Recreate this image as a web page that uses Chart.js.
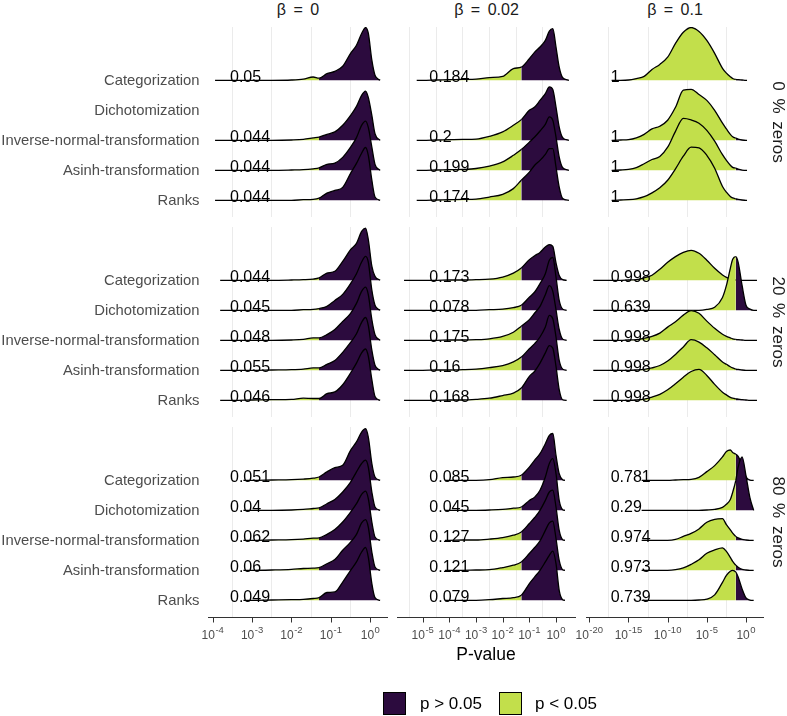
<!DOCTYPE html>
<html>
<head>
<meta charset="utf-8">
<script src="https://cdn.jsdelivr.net/npm/chart.js@4.4.1/dist/chart.umd.min.js"></script>
<style>
  body { margin: 0; background: #fff; font-family: "Liberation Sans", Arial, sans-serif; }
  #plot { position: relative; width: 787px; height: 716px; overflow: hidden; background: #fff; }
  .txt { position: absolute; white-space: nowrap; }
  .method { font-size: 14.8px; color: #4d4d4d; text-align: right; line-height: 18px; }
  .strip { font-size: 16px; color: #1a1a1a; text-align: center; line-height: 18px; word-spacing: 3px; }
  .key { position: absolute; width: 23px; height: 23px; box-sizing: border-box; border: 1px solid #000; }
  .keytxt { font-size: 17px; color: #000; line-height: 20px; }
</style>
</head>
<body>
<div id="plot"></div>
<script>
// categories and facet labels
var methods = ["Categorization", "Dichotomization", "Inverse-normal-transformation", "Asinh-transformation", "Ranks"];
var betas = ["\u03b2 = 0", "\u03b2 = 0.02", "\u03b2 = 0.1"];
var zeroShares = ["0 % zeros", "20 % zeros", "80 % zeros"];
var legendLabels = ["p > 0.05", "p < 0.05"];

// x axis (log10 p-value) ticks and grid lines, one per beta column
var ticksB0 = [-4, -3, -2, -1, 0];
var ticksB002 = [-5, -4, -3, -2, -1, 0];
var ticksB01 = [-20, -15, -10, -5, 0];
var gridB0 = [-3.5, -2.5, -1.5, -0.5];
var gridB002 = [-5.5, -4.5, -3.5, -2.5, -1.5, -0.5];
var gridB01 = [-17.5, -12.5, -7.5, -2.5];

// log10 p positions where the density heights were read
var xsB0 = [-3.5, -3, -2.5, -2, -1.7, -1.45, -1.301, -1.1, -0.9, -0.7, -0.5, -0.35, -0.22, -0.12, -0.05, 0.04, 0.12];
var xsB002 = [-5, -4.5, -4, -3.5, -3, -2.5, -2, -1.6, -1.301, -1, -0.8, -0.6, -0.4, -0.25, -0.12, 0, 0.12, 0.25];
var xsB01 = [-19, -18, -17, -16, -15, -14, -13, -12, -11, -10, -9, -8, -7, -6, -5, -4, -3, -2.5, -2, -1.7, -1.301, -1, -0.5, 0, 0.5, 1];

// range of each ridge (rows: zero share, cols: beta)
var xFrom = [[-3.94, -5.225, -17.15], [-3.81, -5.7, -19.49], [-3.22, -4.164, -13.32]];
var xTo = [[0.25, 0.485, 0.13], [0.25, 0.4, 1.4], [0.25, 0.336, 0.98]];

// power labels (cols: beta, then method)
var powerZ0 = [["0.05", "", "0.044", "0.044", "0.044"], ["0.184", "", "0.2", "0.199", "0.174"], ["1", "", "1", "1", "1"]];
var powerZ20 = [["0.044", "0.045", "0.048", "0.055", "0.046"], ["0.173", "0.078", "0.175", "0.16", "0.168"], ["0.998", "0.639", "0.998", "0.998", "0.998"]];
var powerZ80 = [["0.051", "0.04", "0.062", "0.06", "0.049"], ["0.085", "0.045", "0.127", "0.121", "0.079"], ["0.781", "0.29", "0.974", "0.973", "0.739"]];

// ridge heights (in ridge spacings), one list per method
var densZ0B0 = [
  [0, 0, 0, 0.01, 0.04, 0.11, 0.07, 0.22, 0.3, 0.47, 0.9, 1.17, 1.56, 1.76, 1.57, 0.67, 0.17],
  null,
  [0, 0, 0, 0.01, 0.03, 0.08, 0.11, 0.2, 0.28, 0.5, 0.83, 1.13, 1.5, 1.64, 1.43, 0.83, 0.22],
  [0, 0, 0, 0.01, 0.02, 0.05, 0.08, 0.2, 0.24, 0.43, 0.77, 1.09, 1.5, 1.64, 1.43, 0.77, 0.2],
  [0, 0, 0, 0, 0.02, 0.03, 0.07, 0.24, 0.33, 0.43, 0.9, 1.23, 1.57, 1.76, 1.5, 0.67, 0.11]
];
var densZ20B0 = [
  [0, 0, 0, 0.01, 0.02, 0.04, 0.08, 0.24, 0.3, 0.63, 1.02, 1.23, 1.63, 1.74, 1.36, 0.47, 0.13],
  [0, 0, 0, 0, 0.02, 0.03, 0.06, 0.13, 0.33, 0.53, 0.89, 1.22, 1.61, 1.8, 1.61, 0.67, 0.17],
  [0, 0, 0, 0.01, 0.03, 0.08, 0.08, 0.19, 0.36, 0.63, 0.9, 1.23, 1.63, 1.77, 1.52, 0.69, 0.19],
  [0, 0, 0.01, 0.02, 0.04, 0.08, 0.08, 0.2, 0.33, 0.6, 0.93, 1.22, 1.6, 1.76, 1.5, 0.67, 0.17],
  [0, 0.01, 0.02, 0.03, 0.07, 0.06, 0.06, 0.22, 0.28, 0.52, 0.91, 1.24, 1.58, 1.71, 1.47, 0.69, 0.13]
];
var densZ80B0 = [
  [0, 0, 0.01, 0.02, 0.04, 0.07, 0.11, 0.28, 0.42, 0.5, 1.0, 1.28, 1.61, 1.72, 1.44, 0.56, 0.11],
  [0, 0, 0, 0.01, 0.03, 0.06, 0.08, 0.22, 0.36, 0.61, 0.94, 1.28, 1.56, 1.67, 1.44, 0.61, 0.11],
  [0, 0, 0.01, 0.02, 0.04, 0.07, 0.08, 0.2, 0.36, 0.61, 0.94, 1.22, 1.53, 1.64, 1.39, 0.61, 0.11],
  [0, 0, 0.01, 0.03, 0.06, 0.07, 0.09, 0.22, 0.36, 0.67, 0.94, 1.2, 1.58, 1.69, 1.44, 0.61, 0.11],
  [0, 0, 0.01, 0.02, 0.03, 0.06, 0.09, 0.26, 0.28, 0.61, 1.0, 1.28, 1.61, 1.76, 1.44, 0.56, 0.09]
];
var densZ0B002 = [
  [0, 0.01, 0.02, 0.03, 0.04, 0.09, 0.13, 0.39, 0.44, 0.72, 0.94, 1.11, 1.33, 1.64, 1.72, 1.11, 0.44, 0.09],
  null,
  [0, 0.01, 0.02, 0.03, 0.04, 0.13, 0.28, 0.5, 0.69, 1.0, 1.11, 1.33, 1.56, 1.78, 1.69, 1.11, 0.44, 0.09],
  [0, 0.01, 0.02, 0.03, 0.06, 0.14, 0.28, 0.5, 0.69, 0.94, 1.11, 1.31, 1.53, 1.78, 1.67, 1.11, 0.44, 0.09],
  [0, 0.01, 0.02, 0.03, 0.04, 0.11, 0.2, 0.39, 0.67, 0.94, 1.17, 1.33, 1.53, 1.72, 1.72, 1.11, 0.44, 0.06]
];
var densZ20B002 = [
  [0, 0, 0.01, 0.01, 0.02, 0.04, 0.11, 0.24, 0.41, 0.69, 0.82, 0.93, 1.11, 1.19, 1.13, 0.58, 0.16, 0.02],
  [0, 0, 0, 0, 0, 0.02, 0.04, 0.09, 0.17, 0.44, 0.61, 0.89, 1.22, 1.67, 1.76, 1.11, 0.33, 0.04],
  [0, 0, 0.01, 0.01, 0.02, 0.05, 0.13, 0.27, 0.47, 0.69, 0.91, 1.13, 1.52, 1.82, 1.63, 1.02, 0.36, 0.04],
  [0, 0.01, 0.01, 0.02, 0.04, 0.09, 0.16, 0.28, 0.44, 0.72, 0.89, 1.11, 1.44, 1.83, 1.72, 1.11, 0.33, 0.04],
  [0, 0, 0.01, 0.01, 0.03, 0.07, 0.16, 0.24, 0.41, 0.8, 0.97, 1.24, 1.58, 1.82, 1.74, 1.13, 0.36, 0.02]
];
var densZ80B002 = [
  [0, 0, 0, 0, 0, 0.02, 0.09, 0.11, 0.17, 0.44, 0.67, 0.89, 1.22, 1.5, 1.56, 0.83, 0.22, 0.02],
  [0, 0, 0, 0, 0, 0.01, 0.03, 0.07, 0.11, 0.33, 0.44, 0.67, 1.11, 1.56, 1.72, 1.22, 0.33, 0.02],
  [0, 0, 0, 0.01, 0.01, 0.04, 0.09, 0.17, 0.28, 0.56, 0.76, 1.0, 1.33, 1.61, 1.67, 1.11, 0.33, 0.02],
  [0, 0, 0, 0, 0.01, 0.02, 0.09, 0.17, 0.28, 0.56, 0.76, 0.98, 1.33, 1.58, 1.64, 1.06, 0.33, 0.02],
  [0, 0, 0, 0, 0, 0.02, 0.06, 0.09, 0.17, 0.56, 0.78, 1.0, 1.28, 1.5, 1.64, 1.22, 0.33, 0.02]
];
var densZ0B01 = [
  [0, 0, 0, 0, 0.01, 0.06, 0.13, 0.36, 0.53, 0.77, 1.23, 1.6, 1.76, 1.63, 1.33, 0.9, 0.4, 0.24, 0.12, 0.06, 0.03, 0.02, 0.01, 0, 0, 0],
  null,
  [0, 0, 0, 0.01, 0.02, 0.08, 0.2, 0.38, 0.47, 0.67, 1.1, 1.67, 1.7, 1.53, 1.33, 1.0, 0.57, 0.38, 0.2, 0.12, 0.07, 0.04, 0.01, 0, 0, 0],
  [0, 0, 0, 0.01, 0.03, 0.09, 0.22, 0.36, 0.46, 0.77, 1.3, 1.73, 1.68, 1.57, 1.33, 0.97, 0.52, 0.33, 0.17, 0.1, 0.07, 0.04, 0.01, 0, 0, 0],
  [0, 0, 0, 0.01, 0.02, 0.05, 0.12, 0.25, 0.42, 0.67, 1.05, 1.47, 1.77, 1.75, 1.5, 1.07, 0.46, 0.27, 0.13, 0.08, 0.05, 0.03, 0.01, 0, 0, 0]
];
var densZ20B01 = [
  [0, 0, 0, 0, 0.01, 0.02, 0.08, 0.17, 0.37, 0.6, 0.79, 0.93, 1.0, 0.9, 0.67, 0.4, 0.18, 0.1, 0.05, 0.03, 0.01, 0.01, 0, 0, 0, 0],
  [0, 0, 0, 0, 0, 0, 0, 0, 0, 0, 0, 0, 0, 0, 0.03, 0.1, 0.43, 0.83, 1.4, 1.7, 1.79, 1.6, 0.83, 0.17, 0.04, 0],
  [0, 0, 0, 0, 0.01, 0.02, 0.07, 0.13, 0.24, 0.44, 0.62, 0.84, 0.99, 0.9, 0.64, 0.4, 0.2, 0.13, 0.08, 0.05, 0.03, 0.02, 0.01, 0, 0, 0],
  [0, 0, 0, 0, 0, 0.01, 0.03, 0.08, 0.16, 0.31, 0.53, 0.78, 1.02, 0.94, 0.75, 0.52, 0.28, 0.2, 0.12, 0.08, 0.04, 0.03, 0.01, 0, 0, 0],
  [0, 0, 0, 0, 0, 0.01, 0.04, 0.11, 0.2, 0.35, 0.55, 0.77, 0.96, 1.03, 0.83, 0.53, 0.27, 0.18, 0.1, 0.07, 0.05, 0.04, 0.02, 0.01, 0, 0]
];
var densZ80B01 = [
  [0, 0, 0, 0, 0, 0, 0, 0, 0, 0, 0.01, 0.02, 0.03, 0.1, 0.29, 0.49, 0.78, 0.96, 1.01, 0.93, 0.87, 0.8, 0.5, 0.12, 0.01, 0],
  [0, 0, 0, 0, 0, 0, 0, 0, 0, 0, 0, 0, 0, 0, 0.01, 0.03, 0.1, 0.2, 0.36, 0.6, 1.0, 1.44, 1.78, 1.15, 0.42, 0],
  [0, 0, 0, 0, 0, 0, 0, 0, 0, 0, 0.03, 0.13, 0.23, 0.38, 0.6, 0.7, 0.72, 0.52, 0.35, 0.24, 0.13, 0.08, 0.03, 0.01, 0, 0],
  [0, 0, 0, 0, 0, 0, 0, 0, 0, 0, 0.02, 0.08, 0.2, 0.35, 0.57, 0.68, 0.75, 0.63, 0.43, 0.3, 0.17, 0.1, 0.03, 0.01, 0, 0],
  [0, 0, 0, 0, 0, 0, 0, 0, 0, 0, 0, 0, 0, 0.01, 0.04, 0.18, 0.6, 0.83, 0.97, 1.0, 0.94, 0.78, 0.38, 0.08, 0.01, 0]
];

var cutoff = Math.log10(0.05);
var purple = "#2c0b3e";
var green = "#c2df4b";

// lookups built from the arrays above
var xsByCol = [xsB0, xsB002, xsB01];
var ticksByCol = [ticksB0, ticksB002, ticksB01];
var gridByCol = [gridB0, gridB002, gridB01];
var powers = [powerZ0, powerZ20, powerZ80];
var dens = [
  [densZ0B0, densZ0B002, densZ0B01],
  [densZ20B0, densZ20B002, densZ20B01],
  [densZ80B0, densZ80B002, densZ80B01]
];

// layout (pixels)
var colLeft = [208, 397, 586], colWidth = [180, 179, 178];
var rowTop = [27, 227, 427], panelH = 190, axisH = 32, padX = 14;
var xMin = [-4.119, -5.964, -20.421], xMax = [0.45, 0.75, 2.297];
var yMin = 0.444, yMax = 6.777;
var labelAt = [-3.56, -4.75, -17.27];
var FONT = '"Liberation Sans", Arial, sans-serif';

var plot = document.getElementById("plot");

function addText(cls, text, css) {
  var d = document.createElement("div");
  d.className = "txt " + cls;
  d.textContent = text;
  d.style.cssText += css;
  plot.appendChild(d);
  return d;
}

function ridgePoints(xs, hs, base, from, to) {
  var pts = [{ x: from, y: base }];
  xs.forEach(function (v, i) {
    if (v > from && v < to && hs[i] != null) pts.push({ x: v, y: base + hs[i] });
  });
  pts.push({ x: to, y: base });
  return pts;
}

// power numbers at the left of every ridge
var ridgeText = {
  id: "ridgeText",
  afterDatasetsDraw: function (chart, args, opts) {
    var ctx = chart.ctx, x = chart.scales.x, y = chart.scales.y;
    ctx.save();
    ctx.font = "16px " + FONT;
    ctx.fillStyle = "#000";
    ctx.textAlign = "left";
    ctx.textBaseline = "alphabetic";
    opts.labels.forEach(function (t, k) {
      if (!t) return;
      ctx.fillText(t, x.getPixelForValue(opts.at), y.getPixelForValue(5 - k) + 1.5);
    });
    ctx.restore();
  }
};

// bottom axis with 10^k labels
var logAxis = {
  id: "logAxis",
  afterDraw: function (chart, args, opts) {
    if (!opts.ticks) return;
    var ctx = chart.ctx, a = chart.chartArea, x = chart.scales.x;
    var y0 = Math.round(a.bottom) + 0.5;
    ctx.save();
    ctx.strokeStyle = "#333";
    ctx.lineWidth = 1;
    ctx.beginPath();
    ctx.moveTo(a.left, y0);
    ctx.lineTo(a.right, y0);
    opts.ticks.forEach(function (v) {
      var px = Math.round(x.getPixelForValue(v)) + 0.5;
      ctx.moveTo(px, y0);
      ctx.lineTo(px, y0 + 5);
    });
    ctx.stroke();
    ctx.fillStyle = "#4d4d4d";
    ctx.textAlign = "left";
    ctx.textBaseline = "alphabetic";
    opts.ticks.forEach(function (v) {
      var px = x.getPixelForValue(v), exp = String(v);
      ctx.font = "12px " + FONT;
      var w1 = ctx.measureText("10").width;
      ctx.font = "9.5px " + FONT;
      var w2 = ctx.measureText(exp).width;
      var left = px - (w1 + w2 + 0.5) / 2;
      ctx.font = "12px " + FONT;
      ctx.fillText("10", left, a.bottom + 21.5);
      ctx.font = "9.5px " + FONT;
      ctx.fillText(exp, left + w1 + 0.5, a.bottom + 16);
    });
    ctx.restore();
  }
};

function makePanel(r, c) {
  var datasets = [];
  dens[r][c].forEach(function (hs, k) {
    if (!hs) return;
    var base = 5 - k;
    datasets.push({
      data: ridgePoints(xsByCol[c], hs, base, xFrom[r][c], xTo[r][c]),
      borderColor: "#000",
      borderWidth: 1.3,
      backgroundColor: green,
      fill: { value: base },
      pointRadius: 0,
      tension: 0.4,
      cubicInterpolationMode: "monotone",
      clip: false,
      order: 10 - k,
      segment: {
        backgroundColor: function (ctx) {
          return ctx.p0.parsed.x >= cutoff - 0.001 ? purple : green;
        }
      }
    });
  });

  var bottom = r === 2;
  var cv = document.createElement("canvas");
  cv.width = colWidth[c] + 2 * padX;
  cv.height = panelH + (bottom ? axisH : 0);
  cv.style.cssText = "position:absolute;left:" + (colLeft[c] - padX) + "px;top:" + rowTop[r] +
    "px;width:" + cv.width + "px;height:" + cv.height + "px";
  plot.appendChild(cv);

  new Chart(cv, {
    type: "line",
    data: { datasets: datasets },
    options: {
      responsive: false,
      animation: false,
      devicePixelRatio: 1,
      events: [],
      layout: { padding: { left: padX, right: padX, top: 0, bottom: bottom ? axisH : 0 } },
      plugins: {
        legend: { display: false },
        tooltip: { enabled: false },
        ridgeText: { labels: powers[r][c], at: labelAt[c] },
        logAxis: { ticks: bottom ? ticksByCol[c] : null }
      },
      scales: {
        x: {
          type: "linear",
          min: xMin[c],
          max: xMax[c],
          ticks: { display: false },
          border: { display: false },
          grid: { color: "#ebebeb", lineWidth: 1, drawTicks: false },
          afterBuildTicks: function (s) {
            s.ticks = gridByCol[c].map(function (v) { return { value: v }; });
          },
          afterFit: function (s) { s.height = 0; }
        },
        y: { type: "linear", min: yMin, max: yMax, display: false }
      }
    },
    plugins: [ridgeText, logAxis]
  });
}

for (var r = 0; r < 3; r++) {
  for (var c = 0; c < 3; c++) makePanel(r, c);
}

// method labels on the left
rowTop.forEach(function (top) {
  methods.forEach(function (m, k) {
    var y = top + (yMax - (5 - k)) / (yMax - yMin) * panelH;
    addText("method", m, "right:" + (787 - 199.5) + "px;top:" + (y - 9) + "px;");
  });
});

// facet strips
betas.forEach(function (b, c) {
  var cx = colLeft[c] + colWidth[c] / 2;
  addText("strip", b, "left:" + (cx - 100) + "px;width:200px;top:0.5px;");
});
zeroShares.forEach(function (z, r) {
  var cy = rowTop[r] + panelH / 2;
  addText("strip", z, "left:" + (778 - 60) + "px;width:120px;top:" + (cy - 9) + "px;transform:rotate(90deg);font-size:17px;");
});

// axis title
addText("", "P-value", "left:" + (486 - 60) + "px;width:120px;text-align:center;top:644px;font-size:17.5px;line-height:20px;color:#000;");

// legend
[purple, green].forEach(function (col, i) {
  var sq = document.createElement("div");
  sq.className = "key";
  sq.style.left = (i === 0 ? 383 : 499) + "px";
  sq.style.top = "692px";
  sq.style.background = col;
  plot.appendChild(sq);
  addText("keytxt", legendLabels[i], "left:" + (i === 0 ? 420 : 535) + "px;top:693.5px;");
});
</script>
</body>
</html>
